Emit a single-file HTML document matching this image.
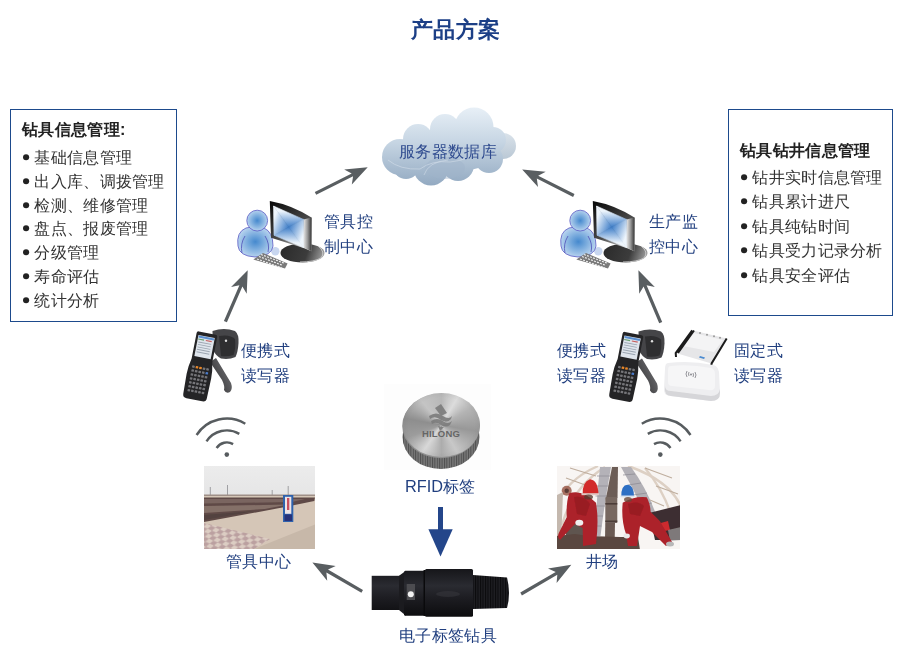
<!DOCTYPE html>
<html><head><meta charset="utf-8">
<style>
html,body{margin:0;padding:0;background:#fff;}
body{width:901px;height:653px;position:relative;overflow:hidden;font-family:"Liberation Sans",sans-serif;}
.t{position:absolute;white-space:nowrap;color:#213f7f;font-size:16px;line-height:24px;transform:scale(1.02);transform-origin:0 0;}
.box{position:absolute;border:1px solid #1d4a8c;box-sizing:border-box;}
.list{position:absolute;white-space:nowrap;color:#333;font-size:16px;line-height:24px;transform:scale(1.02);transform-origin:0 0;}
.list b{font-weight:bold;color:#222;}
.li{position:absolute;white-space:nowrap;color:#333;font-size:16px;line-height:24px;transform:scale(1.02);transform-origin:0 0;}
.dot{display:inline-block;width:6.6px;height:6.6px;border-radius:50%;background:#222;vertical-align:middle;margin-left:0.6px;margin-right:4.8px;position:relative;top:-1.6px;}
svg{position:absolute;left:0;top:0;}
</style></head><body>
<svg width="901" height="653" viewBox="0 0 901 653">
<defs>
  <linearGradient id="cloudg" x1="0" y1="0" x2="0" y2="1">
    <stop offset="0" stop-color="#eaf2f9"/><stop offset="0.5" stop-color="#c9d8e6"/><stop offset="1" stop-color="#94abc3"/>
  </linearGradient>
  <radialGradient id="persong" cx="0.5" cy="0.5" r="0.5">
    <stop offset="0" stop-color="#3f86cc"/><stop offset="1" stop-color="#bcd6ef"/>
  </radialGradient>
  <radialGradient id="screeng" cx="0.5" cy="0.5" r="0.6">
    <stop offset="0" stop-color="#3a78c4"/><stop offset="0.6" stop-color="#9ec0e6"/><stop offset="1" stop-color="#eef4fb"/>
  </radialGradient>
  <linearGradient id="frameg" x1="0" y1="0" x2="1" y2="1">
    <stop offset="0" stop-color="#0c0c0c"/><stop offset="0.5" stop-color="#555"/><stop offset="1" stop-color="#d0d0d0"/>
  </linearGradient>
  <linearGradient id="baseg" x1="0" y1="0" x2="1" y2="0">
    <stop offset="0" stop-color="#222"/><stop offset="0.5" stop-color="#444"/><stop offset="1" stop-color="#999"/>
  </linearGradient>
  <radialGradient id="coing" cx="0.45" cy="0.5" r="0.55">
    <stop offset="0" stop-color="#e6e6e6"/><stop offset="0.6" stop-color="#bdbdbd"/><stop offset="1" stop-color="#9a9a9a"/>
  </radialGradient>
  <pattern id="knurl" width="2.4" height="10" patternUnits="userSpaceOnUse">
    <rect width="2.4" height="10" fill="#8a8a8a"/><rect width="1" height="10" fill="#5a5a5a"/>
  </pattern>
  <pattern id="thread" width="2.5" height="10" patternUnits="userSpaceOnUse">
    <rect width="2.5" height="10" fill="#1e1e22"/><rect width="1" height="10" fill="#0a0a0c"/>
  </pattern>
  <linearGradient id="pipeg" x1="0" y1="0" x2="0" y2="1">
    <stop offset="0" stop-color="#1a1a1e"/><stop offset="0.3" stop-color="#2a2a30"/><stop offset="1" stop-color="#0e0e10"/>
  </linearGradient>
  <linearGradient id="skyg" x1="0" y1="0" x2="0" y2="1">
    <stop offset="0" stop-color="#ececec"/><stop offset="1" stop-color="#dadadc"/>
  </linearGradient>
  <linearGradient id="cloudg2" gradientUnits="userSpaceOnUse" x1="0" y1="107" x2="0" y2="186">
    <stop offset="0" stop-color="#e8f0f7"/><stop offset="0.45" stop-color="#c6d5e3"/><stop offset="1" stop-color="#92a9c1"/>
  </linearGradient>
</defs>

<!-- cloud -->
<linearGradient id="cloudR" gradientUnits="userSpaceOnUse" x1="0" y1="133" x2="0" y2="160"><stop offset="0" stop-color="#d9e2ea"/><stop offset="1" stop-color="#b9c7d4"/></linearGradient>
<circle cx="503" cy="146" r="13" fill="url(#cloudR)"/>
<g fill="url(#cloudg2)">
  <ellipse cx="450" cy="150" rx="50" ry="22"/>
  <circle cx="400" cy="157" r="18"/>
  <circle cx="418" cy="139" r="15"/>
  <circle cx="445" cy="129" r="15"/>
  <circle cx="474" cy="127" r="19.5"/>
  <circle cx="493" cy="140" r="13"/>
  <circle cx="489" cy="159" r="14"/>
  <circle cx="458" cy="165" r="16"/>
  <circle cx="431" cy="168" r="17.5"/>
  <circle cx="406" cy="166" r="13"/>
</g>
<g fill="#9fb4c9" opacity="0.45">
  <ellipse cx="445" cy="168" rx="20" ry="11"/>
</g>
<g fill="none" stroke="#eef4fa" stroke-width="0.6" opacity="0.6">
  <path d="M388,160 Q400,170 420,169 Q432,160 450,162 Q470,160 478,150"/>
  <path d="M424,175 Q428,162 448,160"/>
</g>

<!-- gray arrows -->
<g fill="#595e61">
<polygon points="316.2,194.7 353.1,176.3 351.8,184.6 367.7,167.2 344.2,169.4 351.7,173.4 314.8,191.9"/>
<polygon points="574.5,194.1 538.2,175.7 545.7,171.7 522.2,169.4 538.0,186.9 536.8,178.6 573.1,196.9"/>
<polygon points="226.9,322.2 242.4,286.6 246.7,293.8 247.7,270.2 231.1,287.0 239.4,285.3 223.9,321.0"/>
<polygon points="662.2,322.1 646.6,285.3 654.8,287.1 638.4,270.2 639.2,293.8 643.6,286.6 659.2,323.3"/>
<polygon points="363.0,589.9 328.0,569.6 335.7,566.1 312.4,562.4 327.2,580.8 326.4,572.4 361.4,592.7"/>
<polygon points="521.9,595.4 557.3,574.7 556.6,583.1 571.3,564.7 548.0,568.4 555.7,572.0 520.3,592.6"/>
</g>

<!-- wifi -->
<g fill="none" stroke="#575c5f" stroke-width="2.4">
<path d="M196.6,435.0 A36.0,36.0 0 0 1 245.3,423.7 M206.5,441.4 A24.2,24.2 0 0 1 239.3,433.9 M216.6,448.0 A12.2,12.2 0 0 1 233.1,444.1"/>
<path d="M641.8,423.7 A36.0,36.0 0 0 1 690.5,435.0 M647.8,433.9 A24.2,24.2 0 0 1 680.6,441.4 M654.0,444.1 A12.2,12.2 0 0 1 670.5,448.0"/>
</g>
<circle cx="226.8" cy="454.6" r="2.3" fill="#575c5f"/>
<circle cx="660.3" cy="454.6" r="2.3" fill="#575c5f"/>

<!-- blue arrow -->
<g fill="#24468a">
<rect x="438" y="507" width="5" height="23"/>
<polygon points="428.4,529.2 452.7,529.2 440.5,556.5"/>
</g>

<!-- computer -->
<linearGradient id="scrT" gradientUnits="userSpaceOnUse" x1="288.5" y1="211" x2="288.6" y2="227.1"><stop offset="0" stop-color="#eef5fc"/><stop offset="1" stop-color="#3f7ec8"/></linearGradient>
<linearGradient id="scrR" gradientUnits="userSpaceOnUse" x1="304" y1="233.5" x2="288.6" y2="227.1"><stop offset="0" stop-color="#eef5fc"/><stop offset="1" stop-color="#3f7ec8"/></linearGradient>
<linearGradient id="scrB" gradientUnits="userSpaceOnUse" x1="288.75" y1="243" x2="288.6" y2="227.1"><stop offset="0" stop-color="#eef5fc"/><stop offset="1" stop-color="#3f7ec8"/></linearGradient>
<linearGradient id="scrL" gradientUnits="userSpaceOnUse" x1="273" y1="220.65" x2="288.6" y2="227.1"><stop offset="0" stop-color="#eef5fc"/><stop offset="1" stop-color="#3f7ec8"/></linearGradient>
<linearGradient id="sideg" gradientUnits="userSpaceOnUse" x1="303" y1="0" x2="312" y2="0"><stop offset="0" stop-color="#f2f2f2"/><stop offset="0.5" stop-color="#9a9a9a"/><stop offset="1" stop-color="#2a2a2a"/></linearGradient>
<linearGradient id="bezelg" gradientUnits="userSpaceOnUse" x1="270" y1="200" x2="305" y2="250"><stop offset="0" stop-color="#050505"/><stop offset="0.6" stop-color="#4a4a4a"/><stop offset="1" stop-color="#d8d8d8"/></linearGradient>
<linearGradient id="baseg2" gradientUnits="userSpaceOnUse" x1="281" y1="245" x2="324" y2="260"><stop offset="0" stop-color="#2a2a2a"/><stop offset="0.6" stop-color="#3c3c3c"/><stop offset="1" stop-color="#a8a8a8"/></linearGradient>
<radialGradient id="persong2" cx="0.5" cy="0.5" r="0.5"><stop offset="0" stop-color="#4589ce"/><stop offset="1" stop-color="#b6d2ee"/></radialGradient>
<g id="pc">
  <circle cx="275.3" cy="251.3" r="4.2" fill="#c8d6ef"/>
  <path d="M238,246 Q236,232 246,228 Q255,225 264,228 Q273,232 273,246 Q272,256 255,257 Q239,256 238,246 Z" fill="url(#persong2)" stroke="#5a5ac4" stroke-width="0.8"/>
  <path d="M245,236 Q240,244 242,253 M265,236 Q270,244 268,252" fill="none" stroke="#4f4fb8" stroke-width="0.8"/>
  <circle cx="257.2" cy="220.6" r="10.4" fill="url(#persong2)" stroke="#5a5ac4" stroke-width="0.8"/>
  <ellipse cx="302.5" cy="253" rx="22" ry="9.5" fill="url(#baseg2)"/>
  <path d="M318,246 Q326,252 321,258 Q314,262 300,262" fill="none" stroke="#cfcfcf" stroke-width="0.9"/>
  <path d="M269.8,201 Q292,205 311.5,217.6 L311.5,251.3 L303.5,248 L271,237.8 Z" fill="url(#bezelg)"/>
  <polygon points="303.5,219.4 311.5,217.6 311.5,251.3 303.5,247.6" fill="url(#sideg)"/>
  <polygon points="273.5,206 303.5,219.4 288.6,227.1" fill="url(#scrT)" stroke="url(#scrT)" stroke-width="0.6"/>
  <polygon points="303.5,219.4 303.5,247.6 288.6,227.1" fill="url(#scrR)" stroke="url(#scrR)" stroke-width="0.6"/>
  <polygon points="303.5,247.6 274,235.3 288.6,227.1" fill="url(#scrB)" stroke="url(#scrB)" stroke-width="0.6"/>
  <polygon points="274,235.3 273.5,206 288.6,227.1" fill="url(#scrL)" stroke="url(#scrL)" stroke-width="0.6"/>
  <polygon points="253.3,259.5 263,253 287.6,263.5 285,268.4" fill="#7a7a7a"/>
  <g stroke="#f0f0f0" stroke-width="1.1" stroke-dasharray="2 1.2">
    <path d="M259,256.5 L283,265.5"/>
    <path d="M257,259 L282,268"/>
    <path d="M261,254.5 L285,263.5"/>
  </g>
</g>
<g transform="translate(323,0)">
  <circle cx="275.3" cy="251.3" r="4.2" fill="#c8d6ef"/>
  <path d="M238,246 Q236,232 246,228 Q255,225 264,228 Q273,232 273,246 Q272,256 255,257 Q239,256 238,246 Z" fill="url(#persong2)" stroke="#5a5ac4" stroke-width="0.8"/>
  <path d="M245,236 Q240,244 242,253 M265,236 Q270,244 268,252" fill="none" stroke="#4f4fb8" stroke-width="0.8"/>
  <circle cx="257.2" cy="220.6" r="10.4" fill="url(#persong2)" stroke="#5a5ac4" stroke-width="0.8"/>
  <ellipse cx="302.5" cy="253" rx="22" ry="9.5" fill="url(#baseg2)"/>
  <path d="M318,246 Q326,252 321,258 Q314,262 300,262" fill="none" stroke="#cfcfcf" stroke-width="0.9"/>
  <path d="M269.8,201 Q292,205 311.5,217.6 L311.5,251.3 L303.5,248 L271,237.8 Z" fill="url(#bezelg)"/>
  <polygon points="303.5,219.4 311.5,217.6 311.5,251.3 303.5,247.6" fill="url(#sideg)"/>
  <polygon points="273.5,206 303.5,219.4 288.6,227.1" fill="url(#scrT)" stroke="url(#scrT)" stroke-width="0.6"/>
  <polygon points="303.5,219.4 303.5,247.6 288.6,227.1" fill="url(#scrR)" stroke="url(#scrR)" stroke-width="0.6"/>
  <polygon points="303.5,247.6 274,235.3 288.6,227.1" fill="url(#scrB)" stroke="url(#scrB)" stroke-width="0.6"/>
  <polygon points="274,235.3 273.5,206 288.6,227.1" fill="url(#scrL)" stroke="url(#scrL)" stroke-width="0.6"/>
  <polygon points="253.3,259.5 263,253 287.6,263.5 285,268.4" fill="#7a7a7a"/>
  <g stroke="#f0f0f0" stroke-width="1.1" stroke-dasharray="2 1.2">
    <path d="M259,256.5 L283,265.5"/>
    <path d="M257,259 L282,268"/>
    <path d="M261,254.5 L285,263.5"/>
  </g>
</g>

<!-- handheld reader -->
<linearGradient id="hdlg" gradientUnits="userSpaceOnUse" x1="208" y1="370" x2="226" y2="362"><stop offset="0" stop-color="#3a3a3c"/><stop offset="1" stop-color="#6a6a6d"/></linearGradient>
<g id="hh">
  <path d="M210,362 L222,380 Q225,386 224,390 Q226,394 230,392 Q233,389 231,383 L216,358 Z" fill="url(#hdlg)"/>
  <path d="M212.5,331 Q224,327 235,331 Q239,334 238.5,343 Q238,352 235.5,357 Q229,360 221,358.6 Q216,356 213,350 Z" fill="#454548"/>
  <path d="M219,336 Q230,334 235,339 Q236,348 233.5,355 Q227,357 221,356 Z" fill="#2e2e30"/>
  <circle cx="226" cy="340.7" r="1.2" fill="#e0e0e0"/>
  <g transform="translate(200.8,366.4) rotate(11)">
    <path d="M-10.5,-32 Q-10.5,-34 -8.5,-34 L8.5,-34 Q10.5,-34 10.5,-32 L10.5,-6 Q12.5,2 12.5,10 L12,30 Q12,34 8,34 L-8,34 Q-12,34 -12,30 L-12.5,10 Q-12.5,2 -10.5,-6 Z" fill="#242426"/>
    <rect x="-8.3" y="-30.5" width="16.6" height="21.5" fill="#dfe5ec"/>
    <rect x="-7.8" y="-30" width="15.6" height="2.2" fill="#5b8fd0"/>
    <rect x="-7.8" y="-27" width="6" height="1.2" fill="#6aa070"/>
    <rect x="0" y="-27" width="6" height="1.2" fill="#c86060"/>
    <g fill="#9aa4b0"><rect x="-7" y="-24" width="13" height="0.9"/><rect x="-7" y="-21.5" width="13" height="0.9"/><rect x="-7" y="-19" width="13" height="0.9"/><rect x="-7" y="-16.5" width="13" height="0.9"/><rect x="-7" y="-14" width="13" height="0.9"/></g>
    <rect x="-8.5" y="0.5" width="2.6" height="2.3" rx="0.5" fill="#76767a"/>
    <rect x="-4.9" y="0.5" width="2.6" height="2.3" rx="0.5" fill="#e8872a"/>
    <rect x="-1.3" y="0.5" width="2.6" height="2.3" rx="0.5" fill="#e8872a"/>
    <rect x="2.3" y="0.5" width="2.6" height="2.3" rx="0.5" fill="#76767a"/>
    <rect x="5.9" y="0.5" width="2.6" height="2.3" rx="0.5" fill="#76767a"/>
    <rect x="-8.5" y="4.5" width="2.6" height="2.3" rx="0.5" fill="#76767a"/>
    <rect x="-4.9" y="4.5" width="2.6" height="2.3" rx="0.5" fill="#76767a"/>
    <rect x="-1.3" y="4.5" width="2.6" height="2.3" rx="0.5" fill="#76767a"/>
    <rect x="2.3" y="4.5" width="2.6" height="2.3" rx="0.5" fill="#76767a"/>
    <rect x="5.9" y="4.5" width="2.6" height="2.3" rx="0.5" fill="#4a7ac8"/>
    <rect x="-8.5" y="8.5" width="2.6" height="2.3" rx="0.5" fill="#76767a"/>
    <rect x="-4.9" y="8.5" width="2.6" height="2.3" rx="0.5" fill="#76767a"/>
    <rect x="-1.3" y="8.5" width="2.6" height="2.3" rx="0.5" fill="#76767a"/>
    <rect x="2.3" y="8.5" width="2.6" height="2.3" rx="0.5" fill="#76767a"/>
    <rect x="5.9" y="8.5" width="2.6" height="2.3" rx="0.5" fill="#76767a"/>
    <rect x="-8.5" y="12.5" width="2.6" height="2.3" rx="0.5" fill="#76767a"/>
    <rect x="-4.9" y="12.5" width="2.6" height="2.3" rx="0.5" fill="#76767a"/>
    <rect x="-1.3" y="12.5" width="2.6" height="2.3" rx="0.5" fill="#76767a"/>
    <rect x="2.3" y="12.5" width="2.6" height="2.3" rx="0.5" fill="#76767a"/>
    <rect x="5.9" y="12.5" width="2.6" height="2.3" rx="0.5" fill="#76767a"/>
    <rect x="-8.5" y="16.5" width="2.6" height="2.3" rx="0.5" fill="#76767a"/>
    <rect x="-4.9" y="16.5" width="2.6" height="2.3" rx="0.5" fill="#76767a"/>
    <rect x="-1.3" y="16.5" width="2.6" height="2.3" rx="0.5" fill="#76767a"/>
    <rect x="2.3" y="16.5" width="2.6" height="2.3" rx="0.5" fill="#76767a"/>
    <rect x="5.9" y="16.5" width="2.6" height="2.3" rx="0.5" fill="#76767a"/>
    <rect x="-8.5" y="20.5" width="2.6" height="2.3" rx="0.5" fill="#76767a"/>
    <rect x="-4.9" y="20.5" width="2.6" height="2.3" rx="0.5" fill="#76767a"/>
    <rect x="-1.3" y="20.5" width="2.6" height="2.3" rx="0.5" fill="#76767a"/>
    <rect x="2.3" y="20.5" width="2.6" height="2.3" rx="0.5" fill="#76767a"/>
    <rect x="5.9" y="20.5" width="2.6" height="2.3" rx="0.5" fill="#76767a"/>
    <rect x="-8.5" y="24.5" width="2.6" height="2.3" rx="0.5" fill="#76767a"/>
    <rect x="-4.9" y="24.5" width="2.6" height="2.3" rx="0.5" fill="#76767a"/>
    <rect x="-1.3" y="24.5" width="2.6" height="2.3" rx="0.5" fill="#76767a"/>
    <rect x="2.3" y="24.5" width="2.6" height="2.3" rx="0.5" fill="#76767a"/>
    <rect x="5.9" y="24.5" width="2.6" height="2.3" rx="0.5" fill="#76767a"/>
  </g>
</g>
<g transform="translate(426,0.5)">
  <path d="M210,362 L222,380 Q225,386 224,390 Q226,394 230,392 Q233,389 231,383 L216,358 Z" fill="url(#hdlg)"/>
  <path d="M212.5,331 Q224,327 235,331 Q239,334 238.5,343 Q238,352 235.5,357 Q229,360 221,358.6 Q216,356 213,350 Z" fill="#454548"/>
  <path d="M219,336 Q230,334 235,339 Q236,348 233.5,355 Q227,357 221,356 Z" fill="#2e2e30"/>
  <circle cx="226" cy="340.7" r="1.2" fill="#e0e0e0"/>
  <g transform="translate(200.8,366.4) rotate(11)">
    <path d="M-10.5,-32 Q-10.5,-34 -8.5,-34 L8.5,-34 Q10.5,-34 10.5,-32 L10.5,-6 Q12.5,2 12.5,10 L12,30 Q12,34 8,34 L-8,34 Q-12,34 -12,30 L-12.5,10 Q-12.5,2 -10.5,-6 Z" fill="#242426"/>
    <rect x="-8.3" y="-30.5" width="16.6" height="21.5" fill="#dfe5ec"/>
    <rect x="-7.8" y="-30" width="15.6" height="2.2" fill="#5b8fd0"/>
    <rect x="-7.8" y="-27" width="6" height="1.2" fill="#6aa070"/>
    <rect x="0" y="-27" width="6" height="1.2" fill="#c86060"/>
    <g fill="#9aa4b0"><rect x="-7" y="-24" width="13" height="0.9"/><rect x="-7" y="-21.5" width="13" height="0.9"/><rect x="-7" y="-19" width="13" height="0.9"/><rect x="-7" y="-16.5" width="13" height="0.9"/><rect x="-7" y="-14" width="13" height="0.9"/></g>
    <rect x="-8.5" y="0.5" width="2.6" height="2.3" rx="0.5" fill="#76767a"/>
    <rect x="-4.9" y="0.5" width="2.6" height="2.3" rx="0.5" fill="#e8872a"/>
    <rect x="-1.3" y="0.5" width="2.6" height="2.3" rx="0.5" fill="#e8872a"/>
    <rect x="2.3" y="0.5" width="2.6" height="2.3" rx="0.5" fill="#76767a"/>
    <rect x="5.9" y="0.5" width="2.6" height="2.3" rx="0.5" fill="#76767a"/>
    <rect x="-8.5" y="4.5" width="2.6" height="2.3" rx="0.5" fill="#76767a"/>
    <rect x="-4.9" y="4.5" width="2.6" height="2.3" rx="0.5" fill="#76767a"/>
    <rect x="-1.3" y="4.5" width="2.6" height="2.3" rx="0.5" fill="#76767a"/>
    <rect x="2.3" y="4.5" width="2.6" height="2.3" rx="0.5" fill="#76767a"/>
    <rect x="5.9" y="4.5" width="2.6" height="2.3" rx="0.5" fill="#4a7ac8"/>
    <rect x="-8.5" y="8.5" width="2.6" height="2.3" rx="0.5" fill="#76767a"/>
    <rect x="-4.9" y="8.5" width="2.6" height="2.3" rx="0.5" fill="#76767a"/>
    <rect x="-1.3" y="8.5" width="2.6" height="2.3" rx="0.5" fill="#76767a"/>
    <rect x="2.3" y="8.5" width="2.6" height="2.3" rx="0.5" fill="#76767a"/>
    <rect x="5.9" y="8.5" width="2.6" height="2.3" rx="0.5" fill="#76767a"/>
    <rect x="-8.5" y="12.5" width="2.6" height="2.3" rx="0.5" fill="#76767a"/>
    <rect x="-4.9" y="12.5" width="2.6" height="2.3" rx="0.5" fill="#76767a"/>
    <rect x="-1.3" y="12.5" width="2.6" height="2.3" rx="0.5" fill="#76767a"/>
    <rect x="2.3" y="12.5" width="2.6" height="2.3" rx="0.5" fill="#76767a"/>
    <rect x="5.9" y="12.5" width="2.6" height="2.3" rx="0.5" fill="#76767a"/>
    <rect x="-8.5" y="16.5" width="2.6" height="2.3" rx="0.5" fill="#76767a"/>
    <rect x="-4.9" y="16.5" width="2.6" height="2.3" rx="0.5" fill="#76767a"/>
    <rect x="-1.3" y="16.5" width="2.6" height="2.3" rx="0.5" fill="#76767a"/>
    <rect x="2.3" y="16.5" width="2.6" height="2.3" rx="0.5" fill="#76767a"/>
    <rect x="5.9" y="16.5" width="2.6" height="2.3" rx="0.5" fill="#76767a"/>
    <rect x="-8.5" y="20.5" width="2.6" height="2.3" rx="0.5" fill="#76767a"/>
    <rect x="-4.9" y="20.5" width="2.6" height="2.3" rx="0.5" fill="#76767a"/>
    <rect x="-1.3" y="20.5" width="2.6" height="2.3" rx="0.5" fill="#76767a"/>
    <rect x="2.3" y="20.5" width="2.6" height="2.3" rx="0.5" fill="#76767a"/>
    <rect x="5.9" y="20.5" width="2.6" height="2.3" rx="0.5" fill="#76767a"/>
    <rect x="-8.5" y="24.5" width="2.6" height="2.3" rx="0.5" fill="#76767a"/>
    <rect x="-4.9" y="24.5" width="2.6" height="2.3" rx="0.5" fill="#76767a"/>
    <rect x="-1.3" y="24.5" width="2.6" height="2.3" rx="0.5" fill="#76767a"/>
    <rect x="2.3" y="24.5" width="2.6" height="2.3" rx="0.5" fill="#76767a"/>
    <rect x="5.9" y="24.5" width="2.6" height="2.3" rx="0.5" fill="#76767a"/>
  </g>
</g>

<!-- fixed reader -->
<g>
  <polygon points="692.2,330.3 726.7,338.6 711.6,363.4 675.7,353.1" fill="#e6e6e8"/>
  <polygon points="694,333 723,340 714,352 683,346" fill="#f4f4f5"/>
  <path d="M692.2,330.3 L675.7,353.1 L676,357 M694,330.5 L678,353" fill="none" stroke="#1c1c1c" stroke-width="2"/>
  <path d="M726.7,338.6 L711.6,363.4 L711,367" fill="none" stroke="#1c1c1c" stroke-width="2"/>
  <g fill="#9a9a9a"><circle cx="700" cy="333" r="1"/><circle cx="707" cy="334.7" r="1"/><circle cx="714" cy="336.3" r="1"/><circle cx="720" cy="337.7" r="1"/></g>
  <polygon points="700,356 705,357.5 704,359 699,357.5" fill="#4a8ad0"/>
  <path d="M668,363 Q690,360 713,365 Q718,366 719,372 L720,393 Q720,401 711,401 L670,396 Q663,395 664,388 L665,369 Q665,363 668,363 Z" fill="#eeeef0"/>
  <path d="M665,388 Q664,395 671,396 L711,401 Q720,401 720,393 L720,389 Q719,396 711,396 L671,391 Q665,391 665,386 Z" fill="#d6d6d9"/>
  <path d="M671,366 Q690,364 711,368 Q715,369 715,374 L715,386 Q715,391 709,390 L672,386 Q668,386 668,382 L668,370 Q668,366 671,366 Z" fill="#f6f6f7"/>
  <g fill="none" stroke="#8a8a90" stroke-width="0.9">
    <path d="M687,371 Q685,374 687,377 M689,372 Q688,374 689,376 M695,372 Q697,375 695,378 M693,373 Q694,375 693,377"/>
  </g>
  <circle cx="691" cy="374.5" r="1" fill="#8a8a90"/>
</g>

<!-- coin -->
<rect x="384" y="384" width="107" height="86" fill="#fdfdfd"/>
<ellipse cx="441" cy="437" rx="38.5" ry="32" fill="url(#knurl)"/>
<ellipse cx="441" cy="437" rx="38.5" ry="32" fill="#000" opacity="0.12"/>
<ellipse cx="441" cy="426" rx="38.8" ry="32.2" fill="#8f8f8f"/>

<!-- photo left -->
<clipPath id="clipL"><rect x="204" y="466" width="111" height="83"/></clipPath>
<pattern id="checker" width="8" height="5" patternUnits="userSpaceOnUse" patternTransform="rotate(-8)">
  <rect width="8" height="5" fill="#dccdc3"/>
  <path d="M0,0 L4,2.5 L0,5 Z M8,0 L4,2.5 L8,5 Z" fill="#bba0a0"/>
</pattern>
<filter id="blurL" x="0" y="0" width="1" height="1"><feGaussianBlur stdDeviation="0.4"/></filter>
<g clip-path="url(#clipL)">
 <g filter="url(#blurL)">
  <rect x="203" y="465" width="113" height="85" fill="url(#skyg)"/>
  <g stroke="#8d8d90" stroke-width="0.8"><path d="M210.3,487 V497 M227.5,485 V497 M272.2,490 V497 M288.2,486 V497"/></g>
  <rect x="204" y="494.5" width="111" height="3" fill="#9f9088"/>
  <polygon points="204,496 315,496 315,549 204,549" fill="#d5c6b7"/>
  <polygon points="204,497.5 315,497.5 314.3,501 283.7,507.3 204,522" fill="#5f4a46"/>
  <polygon points="204,499 305,499 292,502 204,503.5" fill="#7a6560"/>
  <polygon points="204,506 288,504.5 265,509 204,513" fill="#846f68"/>
  <polygon points="204,515 255,511 204,520" fill="#524240"/>
  <polygon points="204,523 270,539 254,549 204,549" fill="url(#checker)"/>
  <polygon points="254,549 315,524.6 315,549" fill="#c7b8a9"/>
  <rect x="283" y="495" width="10.3" height="27" fill="#2f62ad"/>
  <rect x="285" y="496.8" width="6.3" height="17" fill="#ece4e6"/>
  <rect x="287" y="498" width="2.3" height="12" fill="#c85060"/>
  <rect x="284.5" y="514.5" width="7.5" height="6.5" fill="#26307a"/>
</g>
</g>

<!-- photo right -->
<clipPath id="clipR"><rect x="557" y="466" width="123" height="83"/></clipPath>
<filter id="blurR" x="0" y="0" width="1" height="1"><feGaussianBlur stdDeviation="0.45"/></filter>
<g clip-path="url(#clipR)">
 <g filter="url(#blurR)">
  <rect x="556" y="465" width="125" height="85" fill="#f8f5f3"/>
  <g fill="none" stroke="#ddd0c4" stroke-width="2.4">
    <path d="M557,505 Q566,480 598,466"/>
    <path d="M562,525 Q572,488 605,467"/>
    <path d="M683,512 Q674,482 628,466"/>
    <path d="M676,535 Q670,498 645,468"/>
  </g>
  <g fill="none" stroke="#bfae9e" stroke-width="1.1">
    <path d="M570,468 L596,476 M566,478 L588,486 M645,468 L672,478 M656,486 L678,494 M650,500 L664,506"/>
  </g>
  <circle cx="566.7" cy="490.7" r="5" fill="#9a5a4a" opacity="0.85"/>
  <circle cx="566.7" cy="490.7" r="2.2" fill="#5a3a34"/>
  <polygon points="557,495 563,492 561,545 557,545" fill="#c4b8ae"/>
  <path d="M600,467 L611,467 Q605,500 600.5,536 L595.5,536 Q596,500 600,467 Z" fill="#b4b2b8"/>
  <g stroke="#8c8a92" stroke-width="0.7"><path d="M597,476 L610,476 M596,486 L608.5,486 M595.5,496 L607,496 M595,506 L605,506 M594.8,516 L603,516 M594.6,526 L601.5,526"/></g>
  <path d="M621,467 L631,467 Q648,490 658,520 L649,523 Q637,495 621,467 Z" fill="#b2b0b6"/>
  <g stroke="#8a8890" stroke-width="0.7"><path d="M623,475 L635,474 M628,485 L641,483 M633,495 L647,493 M639,505 L652,503 M644,515 L656,513"/></g>
  <polygon points="612,467 618,467 617.5,498 606,498" fill="#6c5d56"/>
  <rect x="605.3" y="497" width="12" height="25.7" rx="1" fill="#776861"/>
  <rect x="605.3" y="503" width="12" height="1.6" fill="#4c3e38"/>
  <rect x="605.3" y="520.5" width="12" height="2" fill="#4c3e38"/>
  <polygon points="605.3,522.7 615,522.7 614.7,540 605,540" fill="#6a5a52"/>
  <polygon points="649,513 681,505 681,540 655,540" fill="#3e2e30"/>
  <polygon points="657,524 668,521 670,530 659,532" fill="#cc2a2e"/>
  <polygon points="668,530 681,527 681,540 670,541" fill="#9a9a9a" opacity="0.7"/>
  <polygon points="566,521 590,518 592,545 566,545" fill="#5e5550"/>
  <polygon points="556,549 556,536 575,534 589,536 620,537 638,537 640,550" fill="#5a473f"/>
  <!-- left worker -->
  <path d="M569.3,493.3 Q582,489 596,502.7 Q599,520 596,544 L583,546 L582.7,528 L575,524 L560,540 Q557,538 558.7,533.3 L566.7,517.3 Q566,502 569.3,493.3 Z" fill="#ac2129"/>
  <path d="M574,497 Q584,495 590,504 L586,516 L577,514 Z" fill="#8a1820" opacity="0.55"/>
  <path d="M582.7,494.7 Q582,482 590,479.3 Q598,480 598.5,494.7 Z" fill="#d22a2a"/>
  <rect x="581.5" y="493.2" width="17.5" height="2" fill="#e0c8c4"/>
  <ellipse cx="588.5" cy="497" rx="4.5" ry="2.5" fill="#5a3a30" opacity="0.8"/>
  <ellipse cx="579.3" cy="522.7" rx="4" ry="3" fill="#eeeeee"/>
  <!-- right worker -->
  <path d="M622.7,502.7 Q634,496 646.7,497.3 Q650,503 650.7,512 Q657,518 660,521.3 L672,542 L666,546 L652,532 L640,526 L637,546 L628,546 L626,534 Q621,520 622.7,502.7 Z" fill="#ac2129"/>
  <path d="M628,504 Q638,500 644,506 L640,516 L630,514 Z" fill="#8a1820" opacity="0.55"/>
  <path d="M621.3,496.7 Q621,485 627.5,484.7 Q634,485 634,496.7 Z" fill="#2e6fc4"/>
  <rect x="620.5" y="495.5" width="14" height="1.8" fill="#d8e2ee"/>
  <ellipse cx="628" cy="499.5" rx="4" ry="2.5" fill="#6a4a3a" opacity="0.8"/>
  <ellipse cx="626.7" cy="536" rx="3.2" ry="2.4" fill="#e8e8e8"/>
  <ellipse cx="670" cy="544" rx="4" ry="2.5" fill="#b8b8b8"/>
 </g>
</g>

<!-- drill pipe -->
<linearGradient id="pipeg2" gradientUnits="userSpaceOnUse" x1="0" y1="569" x2="0" y2="617"><stop offset="0" stop-color="#16161a"/><stop offset="0.35" stop-color="#2a2b31"/><stop offset="0.6" stop-color="#1d1d22"/><stop offset="1" stop-color="#0c0c0e"/></linearGradient>
<g>
  <rect x="371.7" y="575.8" width="30" height="34.2" fill="url(#pipeg2)"/>
  <polygon points="399,575.8 406,570.8 406,615.8 399,610" fill="#1b1b1f"/>
  <rect x="404" y="570.8" width="21" height="45" rx="1.5" fill="url(#pipeg2)"/>
  <rect x="423.5" y="570" width="2.5" height="46" fill="#0a0a0c"/>
  <rect x="425" y="569" width="48" height="47.7" rx="1.5" fill="url(#pipeg2)"/>
  <ellipse cx="448" cy="594" rx="12" ry="3" fill="#3a3a40" opacity="0.5"/>
  <path d="M473,575 L507,577.5 Q511,593 507,608 L473,609 Z" fill="url(#thread)"/>
  <rect x="406.7" y="584" width="8.3" height="16" fill="#4c4c50"/>
  <circle cx="410.8" cy="594.2" r="3" fill="#f2f2f2"/>
</g>

</svg>

<div id="coinface" style="position:absolute;left:402.5px;top:393.3px;width:77px;height:64px;border-radius:50%;background:radial-gradient(ellipse at center,rgba(0,0,0,0) 60%,rgba(0,0,0,0.12) 100%),conic-gradient(from 0deg,#b8b8b8 0deg,#dcdcdc 30deg,#b4b4b4 60deg,#989898 100deg,#c8c8c8 150deg,#acacac 180deg,#d8d8d8 215deg,#9c9c9c 250deg,#8e8e8e 280deg,#c4c4c4 320deg,#b8b8b8 360deg);"></div>
<div style="position:absolute;left:418px;top:428.5px;width:46px;font:bold 9.5px 'Liberation Sans',sans-serif;color:#666;letter-spacing:0.2px;line-height:10px;text-align:center;">HILONG</div>
<svg style="position:absolute;left:0;top:0" width="901" height="653"><g fill="#7c7c7c" opacity="0.9"><path d="M435,408 L441,404 L447,413 L441,416 Z"/><path d="M429,416 Q436,411 443,416 Q449,420 452,416 L451,419 Q447,424 441,420 Q435,415 430,419 Z"/><path d="M431,421 Q437,417 443,421 Q448,425 452,421 L450,425 Q446,428 441,425 Q436,421 432,424 Z"/><path d="M438,426 L444,427 L440,431 Z"/></g></svg>

<div class="t" id="title" style="left:411px;top:15px;font-size:22px;font-weight:bold;color:#1c3f86;line-height:30px;">产品方案</div>

<div class="box" style="left:10px;top:109px;width:167px;height:213px;"></div>
<div class="list" style="left:22px;top:118px;"><b>钻具信息管理:</b></div>
<div class="li" style="left:22px;top:146.0px;"><span class="dot"></span>基础信息管理</div>
<div class="li" style="left:22px;top:169.8px;"><span class="dot"></span>出入库、调拨管理</div>
<div class="li" style="left:22px;top:193.6px;"><span class="dot"></span>检测、维修管理</div>
<div class="li" style="left:22px;top:217.4px;"><span class="dot"></span>盘点、报废管理</div>
<div class="li" style="left:22px;top:241.2px;"><span class="dot"></span>分级管理</div>
<div class="li" style="left:22px;top:265.0px;"><span class="dot"></span>寿命评估</div>
<div class="li" style="left:22px;top:288.8px;"><span class="dot"></span>统计分析</div>
<div class="box" style="left:728px;top:109px;width:165px;height:207px;"></div>
<div class="list" style="left:740px;top:139px;"><b>钻具钻井信息管理</b></div>
<div class="li" style="left:740px;top:166.0px;"><span class="dot"></span>钻井实时信息管理</div>
<div class="li" style="left:740px;top:190.4px;"><span class="dot"></span>钻具累计进尺</div>
<div class="li" style="left:740px;top:214.8px;"><span class="dot"></span>钻具纯钻时间</div>
<div class="li" style="left:740px;top:239.2px;"><span class="dot"></span>钻具受力记录分析</div>
<div class="li" style="left:740px;top:263.6px;"><span class="dot"></span>钻具安全评估</div>

<div class="t" style="left:399px;top:140px;color:#2f4b8f;">服务器数据库</div>
<div class="t" style="left:324px;top:210px;">管具控<br>制中心</div>
<div class="t" style="left:649px;top:210px;">生产监<br>控中心</div>
<div class="t" style="left:241px;top:339px;">便携式<br>读写器</div>
<div class="t" style="left:557px;top:339px;">便携式<br>读写器</div>
<div class="t" style="left:734px;top:339px;">固定式<br>读写器</div>
<div class="t" style="left:405px;top:475px;">RFID标签</div>
<div class="t" style="left:226px;top:550px;">管具中心</div>
<div class="t" style="left:586px;top:550px;">井场</div>
<div class="t" style="left:399px;top:624px;">电子标签钻具</div>
</body></html>
